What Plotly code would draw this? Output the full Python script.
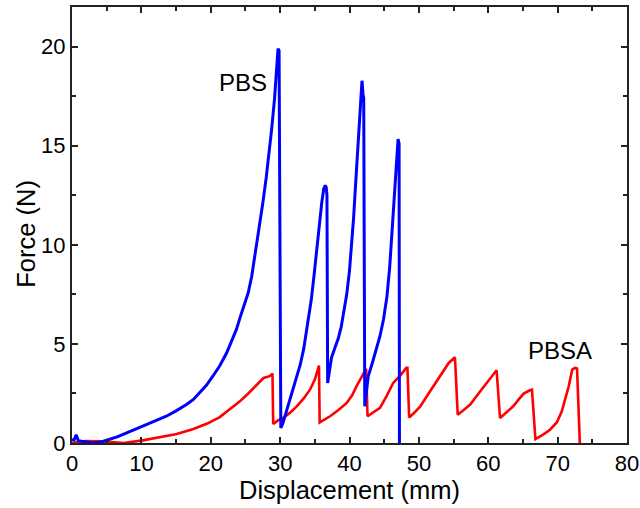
import plotly.graph_objects as go

# Force-displacement curves (mm, N)
pbs_x = [0.0, 0.3, 0.6, 0.9, 1.6, 3.0, 4.2, 5.4, 6.6, 7.8, 9.2, 10.7, 12.2, 13.6, 15.0,
         16.5, 17.5, 18.4, 19.4, 20.3, 21.3, 22.3, 23.0, 23.7, 24.2, 24.8, 25.4, 25.9,
         26.3, 27.0, 27.5, 28.0, 28.4, 28.8, 29.2, 29.5, 29.7, 29.85, 30.1, 30.4,
         30.7, 31.0, 31.4, 31.9, 32.4, 32.9, 33.4, 33.8, 34.2, 34.5, 34.9, 35.3,
         35.7, 36.0, 36.3, 36.5, 36.65, 36.75, 36.85, 37.1, 37.4, 37.9, 38.4, 38.8,
         39.1, 39.4, 39.6, 40.0, 40.3, 40.6, 40.8, 41.1, 41.3, 41.6, 41.8, 41.95,
         42.05, 42.2, 42.4, 42.7, 43.3, 43.9, 44.4, 44.9, 45.2, 45.4, 45.8, 46.2,
         46.6, 46.85, 47.0, 47.15, 47.2]
pbs_y = [0.17, 0.15, 0.42, 0.12, 0.08, 0.0, 0.05, 0.17, 0.32, 0.5, 0.7, 0.93, 1.13, 1.35, 1.62,
         1.94, 2.2, 2.53, 2.92, 3.37, 3.9, 4.55, 5.1, 5.73, 6.3, 6.9, 7.58, 8.4,
         9.3, 10.9, 12.1, 13.4, 14.6, 15.9, 17.4, 18.9, 19.9, 19.8, 0.76, 1.0,
         1.35, 1.75, 2.19, 2.75, 3.3, 3.95, 4.75, 5.6, 6.5, 7.25, 8.5, 9.94,
         11.2, 12.13, 12.85, 13.0, 12.9, 12.5, 3.03, 3.7, 4.3, 4.8, 5.3, 5.85,
         6.4, 7.0, 7.5, 8.7, 9.94, 11.4, 12.6, 14.4, 15.8, 17.5, 18.28, 17.6,
         17.4, 1.85, 2.6, 3.37, 4.05, 4.72, 5.4, 6.23, 6.85, 7.4, 8.9, 11.0,
         13.5, 14.9, 15.33, 15.1, 0.0]

pbsa_x = [0.0, 2.0, 4.5, 7.4, 10.0, 12.7, 15.1, 17.5, 19.5, 21.3, 23.0, 24.2, 25.4, 26.6,
          27.6, 28.5, 28.9, 29.0, 29.7, 30.4, 31.4, 32.4, 33.4, 34.3, 35.0, 35.6, 35.7,
          37.2, 38.4, 39.6, 40.4, 41.0, 41.7, 42.4, 42.6, 43.5, 44.4, 45.4, 46.3,
          47.3, 48.2, 48.35, 48.6, 49.4, 50.2, 51.4, 52.6, 53.5, 54.3, 55.2, 55.6,
          56.5, 57.4, 58.6, 59.8, 60.5, 61.2, 61.7, 62.6, 63.6, 64.4, 65.1, 66.0,
          66.3, 66.8, 67.9, 68.9, 69.9, 70.6, 71.1, 71.6, 72.1, 72.5, 72.8, 73.2]
pbsa_y = [0.0, 0.1, 0.08, 0.0, 0.12, 0.3, 0.45, 0.71, 0.98, 1.31, 1.75, 2.1, 2.5, 2.95,
          3.28, 3.37, 3.5, 0.96, 1.14, 1.26, 1.52, 1.85, 2.25, 2.69, 3.2, 3.91, 1.04,
          1.35, 1.66, 2.02, 2.42, 2.86, 3.3, 3.74, 1.35, 1.55, 1.77, 2.4, 3.03,
          3.4, 3.79, 3.79, 1.29, 1.55, 1.85, 2.5, 3.11, 3.6, 4.04, 4.33, 1.43,
          1.68, 1.94, 2.5, 3.03, 3.35, 3.67, 1.26, 1.55, 1.85, 2.2, 2.49, 2.66,
          2.69, 0.2, 0.42, 0.67, 1.05, 1.6, 2.2, 2.86, 3.7, 3.79, 3.76, 0.0]

FONT = "Arial, Liberation Sans, sans-serif"

fig = go.Figure()
fig.add_trace(go.Scatter(x=pbsa_x, y=pbsa_y, mode="lines", name="PBSA",
                         line=dict(color="#ff0000", width=2.6)))
fig.add_trace(go.Scatter(x=pbs_x, y=pbs_y, mode="lines", name="PBS",
                         line=dict(color="#0000ff", width=3)))

axis_common = dict(
    showline=True, linecolor="#222222", linewidth=2, mirror="ticks",
    ticks="inside", ticklen=6, tickwidth=1.5, tickcolor="#222222",
    showgrid=False, zeroline=False, automargin=False,
    tickfont=dict(family=FONT, size=22, color="black"),
)

fig.update_xaxes(range=[0, 80], dtick=10,
                 minor=dict(dtick=5, ticks="inside", ticklen=4, tickcolor="#222222"),
                 title=dict(text="Displacement (mm)", font=dict(family=FONT, size=25.5, color="black"),
                            standoff=2),
                 **axis_common)
fig.update_yaxes(range=[0, 22], dtick=5,
                 minor=dict(dtick=2.5, ticks="inside", ticklen=4, tickcolor="#222222"),
                 **axis_common)

fig.add_annotation(x=24.7, y=18.2, text="PBS", showarrow=False,
                   font=dict(family=FONT, size=24, color="black"))
fig.add_annotation(x=70.3, y=4.69, text="PBSA", showarrow=False,
                   font=dict(family=FONT, size=24, color="black"))
fig.add_annotation(xref="paper", yref="paper", x=0, y=0.48, xshift=-46,
                   xanchor="center", yanchor="middle",
                   text="Force (N)", textangle=-90, showarrow=False,
                   font=dict(family=FONT, size=25.5, color="black"))

fig.update_layout(
    width=640, height=508,
    margin=dict(l=72, r=13, t=7, b=65),
    paper_bgcolor="white", plot_bgcolor="white",
    showlegend=False,
)

fig.write_html("out.html")
